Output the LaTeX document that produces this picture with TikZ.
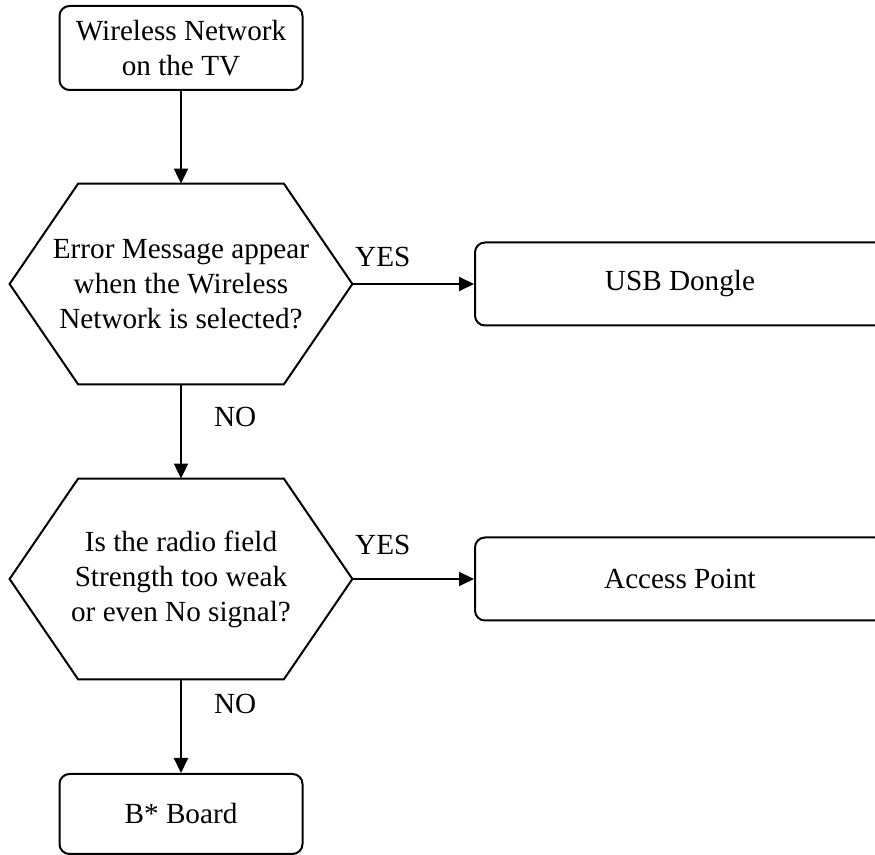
\documentclass[tikz,border=0pt]{standalone}
\usepackage{fontspec}
\setmainfont{Liberation Serif}
\usetikzlibrary{positioning, calc, arrows.meta}
\tikzset{
	flowtext/.style={font=\fontsize{14.6pt}{17.5pt}\selectfont, align=center}
}
\tikzset{
	stepbox/.style={flowtext, draw, line width=1pt, rounded corners=5pt, inner sep=0pt},
	decision/.style={flowtext, inner sep=0pt, minimum width=171pt, minimum height=100pt},
	answer/.style={font=\fontsize{14.6pt}{17.5pt}\selectfont, inner sep=0pt},
	flowarrow/.style={line width=1pt, -{Triangle[length=7.5pt, width=7pt]}}
}
% hexagon round a decision node
\newcommand{\hexa}[1]{\draw[line width=1pt] (#1.west)
  -- ($(#1.north west)!0.2!(#1.north east)$) -- ($(#1.north west)!0.8!(#1.north east)$)
  -- (#1.east)
  -- ($(#1.south west)!0.8!(#1.south east)$) -- ($(#1.south west)!0.2!(#1.south east)$)
  -- cycle;}

\begin{document}
\begin{tikzpicture}[x=0.5pt, y=-0.5pt]
  \useasboundingbox (0,0) rectangle (875,855);

  \node[stepbox, minimum width=121.5pt, minimum height=42pt] (tv) at (181,48) {Wireless Network\\on the TV};
  \node[decision] (q1) at (181,284) {Error Message appear\\when the Wireless\\Network is selected?};
  \node[stepbox, minimum width=205pt, minimum height=41.5pt] (usb) at (680,284) {USB Dongle};
  \node[decision] (q2) at (181,579) {Is the radio field\\Strength too weak\\or even No signal?};
  \node[stepbox, minimum width=205pt, minimum height=41.5pt] (ap) at (680,579) {Access Point};
  \node[stepbox, minimum width=121.5pt, minimum height=40pt] (board) at (181,814) {B* Board};
  \hexa{q1}
  \hexa{q2}

  \draw[flowarrow] (tv) -- (q1);
  \draw[flowarrow] (q1.east) -- node[answer, pos=0.25, above=8.2pt] {YES} (usb.west);
  \draw[flowarrow] (q1.south) -- node[answer, pos=0.35, right=16pt] {NO} (q2.north);
  \draw[flowarrow] (q2.east) -- node[answer, pos=0.25, above=11.7pt] {YES} (ap.west);
  \draw[flowarrow] (q2.south) -- node[answer, pos=0.26, right=16pt] {NO} (board.north);
\end{tikzpicture}
\end{document}
